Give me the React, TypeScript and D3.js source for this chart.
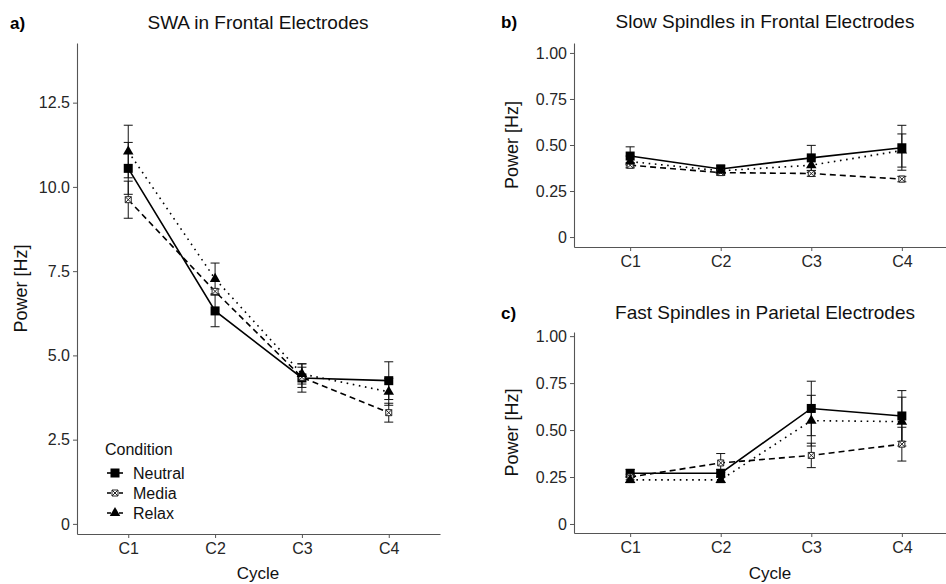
import React, { useRef, useEffect } from "react";
import * as d3 from "d3";

const cycles = ["C1", "C2", "C3", "C4"];
const conditions = ["Neutral", "Media", "Relax"];

// a) SWA in frontal electrodes
const swaNeutral = [10.55, 6.32, 4.33, 4.25];
const swaNeutralSe = [0.77, 0.47, 0.42, 0.56];
const swaMedia = [9.62, 6.9, 4.35, 3.3];
const swaMediaSe = [0.55, 0.07, 0.3, 0.28];
const swaRelax = [11.05, 7.27, 4.45, 3.92];
const swaRelaxSe = [0.78, 0.47, 0.3, 0.4];

// b) slow spindles, frontal
const slowNeutral = [0.44, 0.37, 0.43, 0.485];
const slowNeutralSe = [0.05, 0.02, 0.068, 0.122];
const slowMedia = [0.39, 0.35, 0.345, 0.315];
const slowMediaSe = [0.015, 0.015, 0.015, 0.015];
const slowRelax = [0.41, 0.36, 0.39, 0.47];
const slowRelaxSe = [0.03, 0.02, 0.04, 0.09];

// c) fast spindles, parietal
const fastNeutral = [0.27, 0.27, 0.615, 0.575];
const fastNeutralSe = [0.02, 0.02, 0.145, 0.135];
const fastMedia = [0.25, 0.325, 0.365, 0.425];
const fastMediaSe = [0.015, 0.05, 0.065, 0.09];
const fastRelax = [0.235, 0.235, 0.55, 0.545];
const fastRelaxSe = [0.015, 0.015, 0.135, 0.13];

const swaTicks = [0, 2.5, 5, 7.5, 10, 12.5];
const swaTickLabels = ["0", "2.5", "5.0", "7.5", "10.0", "12.5"];
const spTicks = [0, 0.25, 0.5, 0.75, 1];
const spTickLabels = ["0", "0.25", "0.50", "0.75", "1.00"];

const FONT = "'Liberation Sans', Arial, sans-serif";
const dashFor = { Neutral: null, Media: "6,4", Relax: "1.6,4.6" };

const squareCross = (s) =>
  `M${-s},${-s}H${s}V${s}H${-s}Z M${-s},${-s}L${s},${s} M${s},${-s}L${-s},${s}`;

function drawMarker(g, cond, x, y) {
  if (cond === "Neutral") {
    g.append("rect").attr("x", x - 4.5).attr("y", y - 4.5)
      .attr("width", 9).attr("height", 9).attr("fill", "#000");
  } else if (cond === "Relax") {
    g.append("path").attr("transform", `translate(${x},${y})`)
      .attr("d", d3.symbol(d3.symbolTriangle, 48)()).attr("fill", "#000");
  } else {
    g.append("path").attr("transform", `translate(${x},${y})`)
      .attr("d", squareCross(3)).attr("fill", "#fff")
      .attr("stroke", "#222").attr("stroke-width", 1);
  }
}

function drawPanel(svg, p) {
  const x = d3.scalePoint().domain(cycles).range(p.xRange).padding(p.pad);
  const y = d3.scaleLinear().domain(p.yDomain).range(p.yRange);
  const g = svg.append("g");

  const yAxis = g.append("g")
    .attr("transform", `translate(${p.xRange[0]},0)`)
    .call(d3.axisLeft(y).tickValues(p.ticks).tickFormat((d, i) => p.tickLabels[i])
      .tickSize(4).tickPadding(3).tickSizeOuter(0));
  const xAxis = g.append("g")
    .attr("transform", `translate(0,${p.yRange[0]})`)
    .call(d3.axisBottom(x).tickSize(4).tickPadding(5).tickSizeOuter(0));
  [yAxis, xAxis].forEach(a => {
    a.select(".domain").attr("stroke", "#555").attr("stroke-width", 1.1);
    a.selectAll(".tick line").attr("stroke", "#555");
    a.selectAll(".tick text").attr("fill", "#262626")
      .style("font-family", FONT).style("font-size", "16px");
  });

  const series = [
    { cond: "Neutral", v: p.neutral, se: p.neutralSe },
    { cond: "Media", v: p.media, se: p.mediaSe },
    { cond: "Relax", v: p.relax, se: p.relaxSe },
  ];

  const line = d3.line().x((d, i) => x(cycles[i])).y(d => y(d));
  series.forEach(s => {
    g.append("path").datum(s.v)
      .attr("fill", "none").attr("stroke", "#000").attr("stroke-width", 1.6)
      .attr("stroke-dasharray", dashFor[s.cond])
      .attr("d", line);
  });

  // error bars
  series.forEach(s => {
    s.v.forEach((v, i) => {
      const cx = x(cycles[i]);
      const lo = y(v - s.se[i]);
      const hi = y(v + s.se[i]);
      const eg = g.append("g").attr("stroke", "#111").attr("stroke-width", 1);
      eg.append("line").attr("x1", cx).attr("x2", cx).attr("y1", lo).attr("y2", hi);
      eg.append("line").attr("x1", cx - 4.5).attr("x2", cx + 4.5).attr("y1", lo).attr("y2", lo);
      eg.append("line").attr("x1", cx - 4.5).attr("x2", cx + 4.5).attr("y1", hi).attr("y2", hi);
    });
  });

  series.forEach(s => {
    s.v.forEach((v, i) => drawMarker(g, s.cond, x(cycles[i]), y(v)));
  });

  // titles
  svg.append("text").attr("x", p.titleX).attr("y", p.titleY)
    .attr("text-anchor", "middle").attr("fill", "#111")
    .style("font-family", FONT).style("font-size", "19px").text(p.title);
  svg.append("text").attr("x", p.tagX).attr("y", p.titleY)
    .attr("fill", "#000").attr("font-weight", "bold")
    .style("font-family", FONT).style("font-size", "17px").text(p.tag);
  const yMid = (p.yRange[0] + p.yRange[1]) / 2;
  svg.append("text")
    .attr("transform", `translate(${p.yLabelX},${yMid}) rotate(-90)`)
    .attr("text-anchor", "middle").attr("dy", "0.35em").attr("fill", "#111")
    .style("font-family", FONT).style("font-size", "18px").text("Power [Hz]");
  if (p.xLabel) {
    svg.append("text").attr("x", p.xLabelX).attr("y", 579)
      .attr("text-anchor", "middle").attr("fill", "#111")
      .style("font-family", FONT).style("font-size", "17px").text("Cycle");
  }
}

const App = () => {
  const svgRef = useRef(null);

  useEffect(() => {
    const svg = d3.select(svgRef.current);
    svg.selectAll("*").remove();

    drawPanel(svg, {
      title: "SWA in Frontal Electrodes", tag: "a)", titleX: 258, titleY: 29, tagX: 10,
      xRange: [77, 440], pad: 0.59, yRange: [534, 43], yDomain: [-0.3, 14.27],
      ticks: swaTicks, tickLabels: swaTickLabels, yLabelX: 21, xLabel: true, xLabelX: 258,
      neutral: swaNeutral, neutralSe: swaNeutralSe, media: swaMedia, mediaSe: swaMediaSe,
      relax: swaRelax, relaxSe: swaRelaxSe,
    });
    drawPanel(svg, {
      title: "Slow Spindles in Frontal Electrodes", tag: "b)", titleX: 765, titleY: 28, tagX: 501,
      xRange: [574, 958], pad: 0.62, yRange: [247, 43], yDomain: [-0.054, 1.054],
      ticks: spTicks, tickLabels: spTickLabels, yLabelX: 512, xLabel: false,
      neutral: slowNeutral, neutralSe: slowNeutralSe, media: slowMedia, mediaSe: slowMediaSe,
      relax: slowRelax, relaxSe: slowRelaxSe,
    });
    drawPanel(svg, {
      title: "Fast Spindles in Parietal Electrodes", tag: "c)", titleX: 765, titleY: 319, tagX: 501,
      xRange: [574, 958], pad: 0.62, yRange: [533, 332], yDomain: [-0.048, 1.022],
      ticks: spTicks, tickLabels: spTickLabels, yLabelX: 512, xLabel: true, xLabelX: 770,
      neutral: fastNeutral, neutralSe: fastNeutralSe, media: fastMedia, mediaSe: fastMediaSe,
      relax: fastRelax, relaxSe: fastRelaxSe,
    });

    // legend (panel a)
    const lg = svg.append("g");
    lg.append("text").attr("x", 105).attr("y", 455).attr("fill", "#111")
      .style("font-family", FONT).style("font-size", "16px").text("Condition");
    conditions.forEach((c, i) => {
      const ly = 473 + i * 20;
      lg.append("line").attr("x1", 107).attr("x2", 123).attr("y1", ly).attr("y2", ly)
        .attr("stroke", "#000").attr("stroke-width", 1.6)
        .attr("stroke-dasharray", c === "Neutral" ? null : "4,2");
      drawMarker(lg, c, 115, ly);
      lg.append("text").attr("x", 133).attr("y", ly).attr("dy", "0.35em").attr("fill", "#111")
        .style("font-family", FONT).style("font-size", "16px").text(c);
    });
  }, []);

  return (
    <svg ref={svgRef} width={946} height={584}
      style={{ position: "absolute", left: 0, top: 0, background: "#fff" }} />
  );
};

export default App;
